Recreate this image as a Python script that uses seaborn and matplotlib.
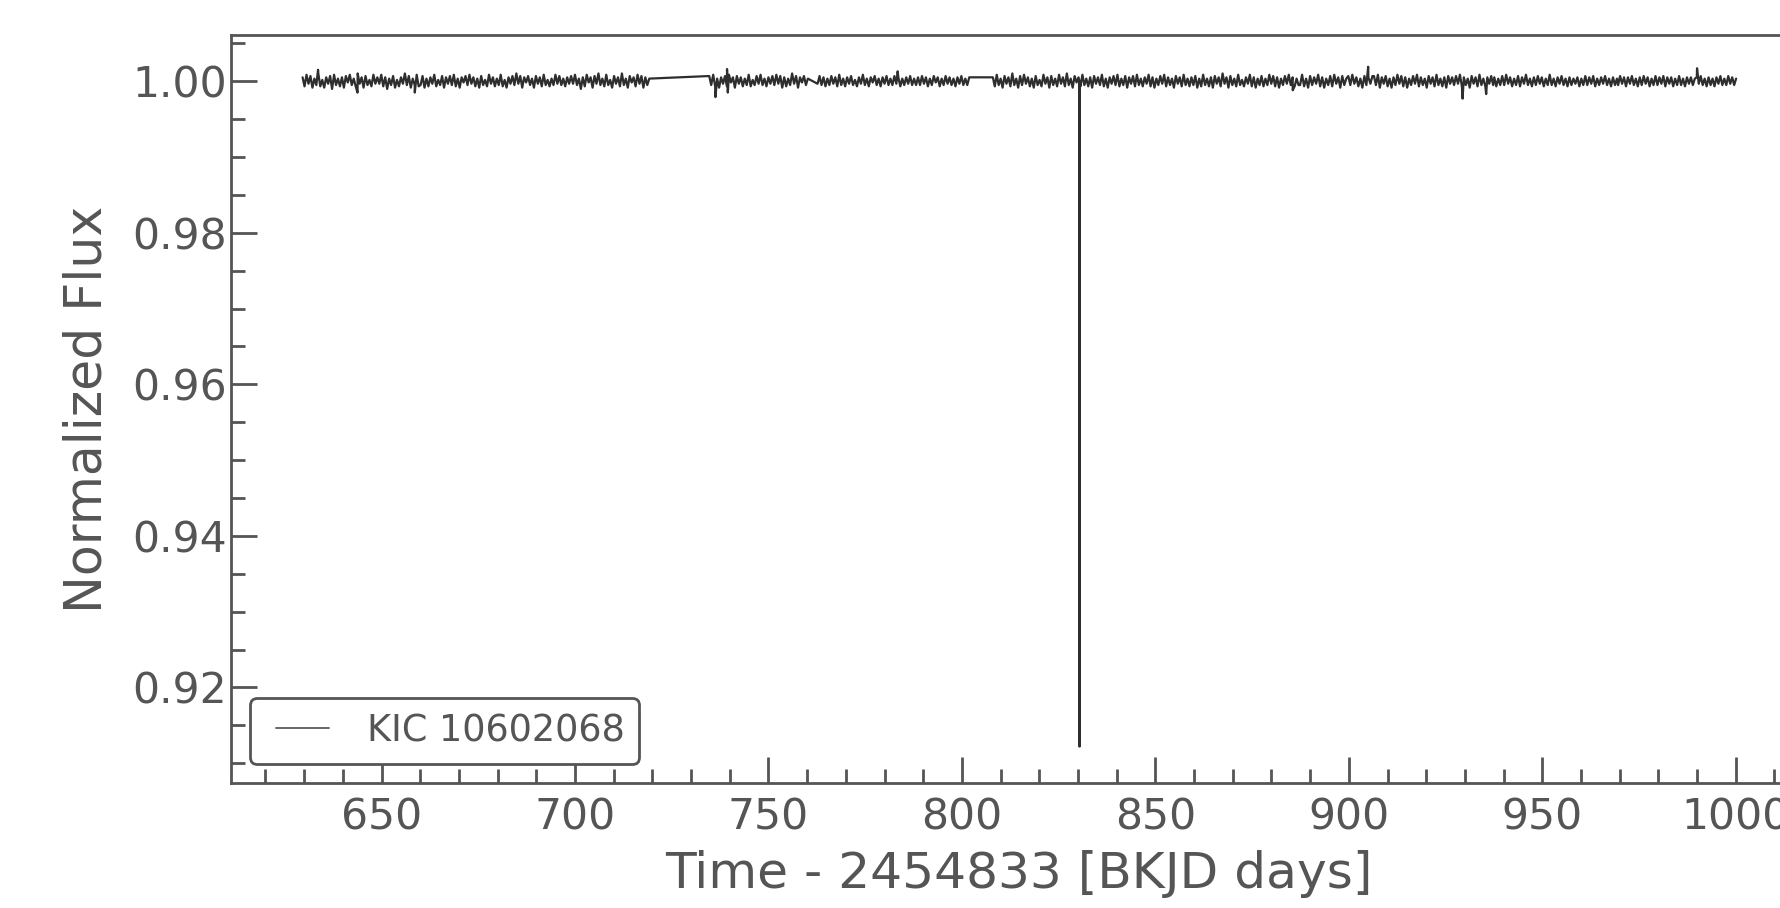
import numpy as np
import pandas as pd
import matplotlib
matplotlib.use("Agg")
import matplotlib.pyplot as plt
import seaborn as sns
from matplotlib.ticker import MultipleLocator, FormatStrFormatter
from matplotlib.legend_handler import HandlerLine2D
from matplotlib.lines import Line2D

# ---- data (flux deviations in units of 170 ppm) ----
seg_start = [629.6, 660.1, 734.7, 762.7, 808.0, 887.4, 906.5, 937.6, 969.6]
seg_end = [659.6, 719.2, 760.2, 801.9, 887.0, 906.1, 937.3, 969.3, 1000.1]

noise_a1 = [3, -4, 5, -2, 4, -5, 2, -3, 6, -4, 1, -5, 3, -2, 4, -6, 5, -3, 2, -4, 3, -5, 4, -1, 5, -3, 2, -4, 6, -2,
            3, -5, 4, -3, 1, -4, 5, -2, 3, -2, 5, -4, 3, -6, 2, -3, 4, -5, 1, -4, 3, -2, 6, -3, 4, -5, 2, -3, 5, -4]
noise_a2 = [-3, 4, -5, 2, -4, 3, -2, 5, -4, 1, -3, 4, -5, 3, -2, 4, -3, 5, -4, 2, -5, 3, -1, 4, -3, 5, -2, 3, -4, 2,
            -5, 4, -3, 1, -4, 5, -2, 3, -4, 2, -3, 5, -4, 1, -5, 3, -2, 4, -3, 6, -2, 4, -5, 3, -1, 4, -3, 2, -5, 4,
            -2, 3, -4, 5, -3, 1, -4, 2, -3, 5, -2, 4, -3, 2, -4, 3, -2, 4, -2, 5, -3, 2, -6, 3, -4, 5, -1, 3, -5, 4,
            -2, 6, -3, 2, -4, 5, -3, 1, -5, 4, -2, 3, -4, 6, -3, 2, -5, 4, -1, 3, -4, 5, -2, 4, -5, 3, -3, 2]
noise_b = [4, -3, 5, -4, 2, -5, 3, -2, 4, -4, 5, -1, 3, -5, 4, -2, 3, -4, 2, -3, 5, -4, 1, -3, 4, -2, 5, -3, 2, -4,
           3, -2, 4, -3, 5, -2, 4, -5, 3, -4, 2, -3, 6, -2, 4, -5, 3, -1, 4, -3, 2]
noise_c = [-2, 4, -3, 3, -4, 2, -3, 4, -2, 3, -4, 5, -3, 2, -4, 3, -2, 4, -3, 1, -4, 3, -2, 5, -3, 2, -4, 3, -1, 4,
           -3, 2, -4, 3, -2, 4, -3, 2, -3, 4, -2, 3, -4, 2, -3, 3, -2, 4, -3, 2, -3, 3, -3, 4, -2, 3, -4, 2, -3, 4,
           -1, 3, -4, 2, -3, 4, -2, 3, -3, 2, -4, 3, -2, 4, -3, 2, -3, 3]
noise_d1 = [3, -4, 5, -3, 2, -5, 4, -2, 3, -4, 6, -3, 2, -5, 4, -3, 5, -2, 3, -4, 2, -5, 4, -3, 1, -4, 5, -2, 3, -5,
            4, -3, 2, -4, 5, -2, 3, -4, 6, -3, 2, -5, 4, -1, 3, -4, 5, -3, 2, -4, 3, -5, 4, -2, 3, -3, 5, -4, 2, -5,
            3, -2, 4, -3, 5, -4, 2, -3, 4, -5, 3, -2, 4, -4, 5, -3, 2, -4, 3, -2, 5, -4, 3, -5, 2, -3, 4, -2, 5, -4,
            3, -3, 2, -5, 4, -2, 3, -4, 5, -3, 2, -4, 3, -3, 4, -5, 2, -4, 5, -3, 2, -4, 3, -5, 4, -2, 3, -4, 6,
            -2, 3, -5, 4, -3, 2, -4, 5, -3, 1, -4, 3, -2, 5, -4, 3, -5, 2, -3, 4, -4, 2, -3, 5, -2, 4, -4, 3, -5, 2,
            -3, 4, -2, 5, -3, 3, -4, 2, -3]
noise_d2 = [-3, 5, -4, 2, -5, 4, -3, 3, -2, 5, -4, 3, -5, 2, -3, 4, -4, 5, -2, 3, -5, 4, -3, 2, 4, -3, 5, -2, 3, -4,
            2, -5, 4, -3, 3, -2, 4]
noise_d3 = [4, -3, 5, -5, 3, -2, 4, -4, 2, -5, 3, -3, 5, -2, 4, -4, 3, -5, 2, -3, 4, -2, 5, -4, 3, -3, 2, -5, 4, -2,
            3, -4, 5, -3, 2, -4, 3, -5, 4, -2, 3, -3, 4, -2, 5, -4, 3, -3, 2, -5, 4, -2, 3, -4, 5, -3, 2, -4, 3, -2,
            4, -3]
noise_d4 = [3, -4, 2, -3, 4, -3, 5, -2, 3, -4, 2, -3, 4, -4, 3, -2, 5, -3, 2, -4, 3, -3, 4, -2, 3, -4, 2, -3, 5, -3,
            2, -4, 3, -2, 4, -3, 2, -4, 3, -3, 2, -2, 3, -4, 2, -3, 4, -3, 3, -2, 4, -4, 2, -3, 3, -2, 4, -3, 2, -4,
            3, -3, 2]
noise_d5 = [-3, 4, -2, 3, -4, 3, -2, 4, -3, 2, -4, 3, -3, 4, -2, 3, -4, 2, -3, 4, -3, 3, -2, 4, -4, 3, -2, 3, -4, 2,
            -3, 4, -3, 2, -4, 3, -2, 3, -3, 2, 3, -2, 4, -3, 2, -4, 3, -3, 2, -4, 3, -2, 4, -3, 2, -3, 4, -2, 3, -3,
            2]
segment_noise = [noise_a1, noise_a2, noise_b, noise_c, noise_d1, noise_d2, noise_d3, noise_d4, noise_d5]
noise_unit = 1.7e-4

# individual features: small dips / spikes and the single deep eclipse
feature_time = [633.6, 643.8, 658.6, 736.3, 739.3, 739.5, 783.4, 830.38, 830.40, 830.42, 885.5, 905.0, 929.4,
                935.5, 990.0]
feature_flux = [1.0015, 0.9985, 0.9985, 0.9979, 1.0016, 0.9985, 1.0013, 1.0000, 0.9122, 1.0000, 0.9988, 1.0019,
                0.9977, 0.9983, 1.0017]

label = "KIC 10602068"
xlabel = "Time - 2454833 [BKJD days]"
ylabel = "Normalized Flux"

# ---- assemble series ----
times, fluxes = [], []
for s, e, nz in zip(seg_start, seg_end, segment_noise):
    times.append(np.linspace(s, e, len(nz)))
    fluxes.append(1.0 + np.asarray(nz, dtype=float) * noise_unit)
times.append(np.asarray(feature_time))
fluxes.append(np.asarray(feature_flux))
t = np.concatenate(times)
f = np.concatenate(fluxes)
order = np.argsort(t, kind="stable")
df = pd.DataFrame({"time": t[order], "flux": f[order]})

# ---- style ----
sns.set_style("ticks")
grey = "#555555"
plt.rcParams.update({
    "font.family": ["DejaVu Sans"],
    "axes.edgecolor": grey,
    "axes.labelcolor": grey,
    "xtick.color": grey,
    "ytick.color": grey,
    "text.color": grey,
})

fig = plt.figure(figsize=(1781 / 200, 908 / 200), dpi=200)
ax = fig.add_axes([0.1297, 0.1377, 0.8853, 0.8238])

sns.lineplot(data=df, x="time", y="flux", estimator=None, sort=False, color="#2e2e2e",
             linewidth=0.8, label=label, ax=ax)

ax.set_xlim(611.1, 1018.6)
ax.set_ylim(0.9074, 1.0061)

ax.xaxis.set_major_locator(MultipleLocator(50))
ax.xaxis.set_minor_locator(MultipleLocator(10))
ax.yaxis.set_major_locator(MultipleLocator(0.02))
ax.yaxis.set_minor_locator(MultipleLocator(0.005))
ax.yaxis.set_major_formatter(FormatStrFormatter("%.2f"))

ax.tick_params(which="both", direction="in", width=1.0, top=False, right=False)
ax.tick_params(which="major", length=9.4, labelsize=15.3)
ax.tick_params(axis="y", which="major", pad=1.5)
ax.tick_params(axis="x", which="major", pad=5)
ax.tick_params(which="minor", length=5.0)
for sp in ax.spines.values():
    sp.set_linewidth(1.0)
    sp.set_color(grey)

ax.set_xlabel(xlabel, fontsize=18.1, labelpad=4)
ax.set_ylabel(ylabel, fontsize=18.2, labelpad=7)

handles, labels = ax.get_legend_handles_labels()
leg = ax.legend(handles, labels, loc="lower left", fontsize=13.2, frameon=True, fancybox=True,
                handlelength=1.76, handletextpad=1.02, framealpha=1.0, borderaxespad=0.52,
                handler_map={Line2D: HandlerLine2D(xpad=0.31)})
leg.get_frame().set_edgecolor(grey)
leg.get_frame().set_linewidth(1.0)
for ln in leg.get_lines():
    ln.set_linewidth(0.7)
    ln.set_color("#666666")

fig.savefig("out.png", dpi=200)
